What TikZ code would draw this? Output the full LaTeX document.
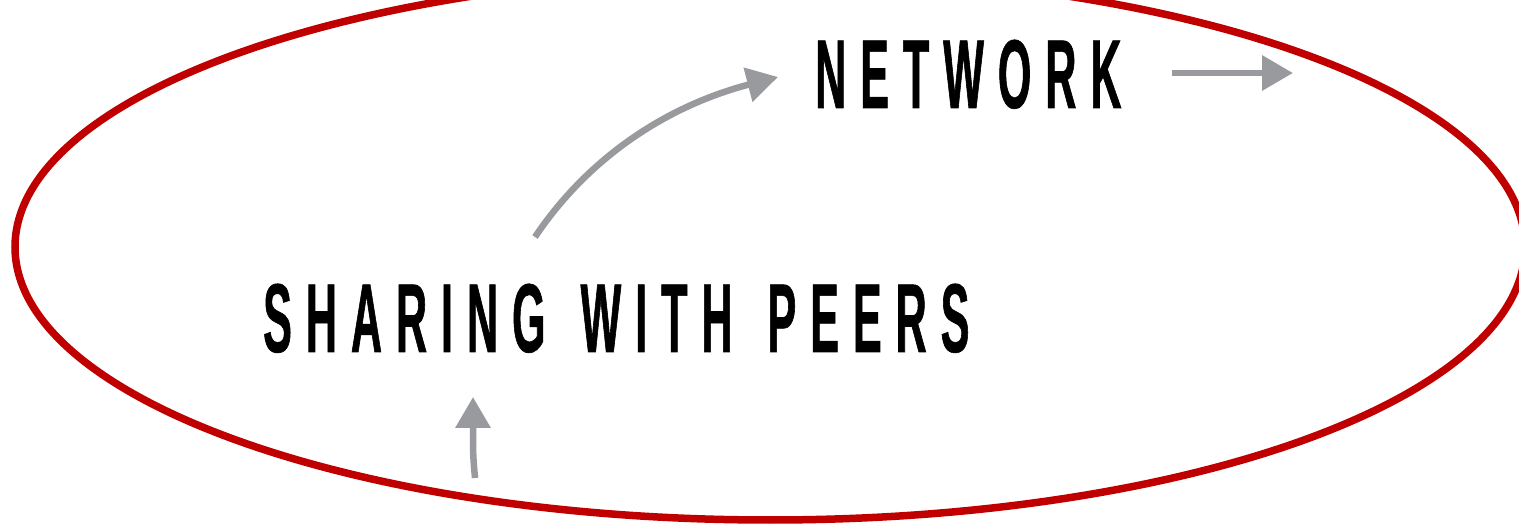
\documentclass[tikz,border=0pt]{standalone}
\usepackage{fontspec}
\usetikzlibrary{arrows.meta}
% narrow capitals for the two labels
\newfontfamily\headfont[UprightFont=* Bold,FakeStretch=0.44,FakeBold=0.6]{Liberation Sans}
\definecolor{loopred}{RGB}{192,0,0}
\definecolor{arrowgray}{RGB}{153,154,158}
\newcommand\lsp{\kern14pt}
\newcommand\wsp{\kern35pt}
\tikzset{
  label/.style={inner sep=0pt,anchor=base west,
    font=\headfont\fontsize{97.8pt}{100pt}\selectfont},
  flow/.style={draw=arrowgray,line width=6.5pt,
    -{Triangle[length=31pt,width=34pt]}},
  loop/.style={draw=loopred,line width=7.5pt}
}
\begin{document}
\begin{tikzpicture}[x=1pt,y=-1pt]
  \clip (0,0) rectangle (1519,526);
  \fill[white] (0,0) rectangle (1519,526);
  % the surrounding loop
  \draw[loop] (770,247) ellipse [x radius=755, y radius=273];
  % labels
  \node[label] (net) at (815,108) {N\lsp E\lsp T\lsp W\lsp O\lsp R\lsp K};
  \node[label] (share) at (263,352) {S\lsp H\lsp A\lsp R\lsp I\lsp N\lsp G\wsp W\lsp I\lsp T\lsp H\wsp P\lsp E\lsp E\lsp R\lsp S};
  % arrow ends
  \coordinate (netstart) at ([xshift=50pt]net.east |- 0,73);
  \coordinate (netout) at (1293,73);
  \coordinate (netin) at (778,77);
  \coordinate (shareup) at (535,237);
  \coordinate (sharein) at (473,397);
  \coordinate (below) at (475,478);
  % arrows
  \draw[flow] (netstart) -- (netout);
  \draw[flow] (shareup) .. controls (590,155) and (670,105) .. (netin);
  \draw[flow] (below) .. controls (473,455) .. (sharein);
\end{tikzpicture}
\end{document}
